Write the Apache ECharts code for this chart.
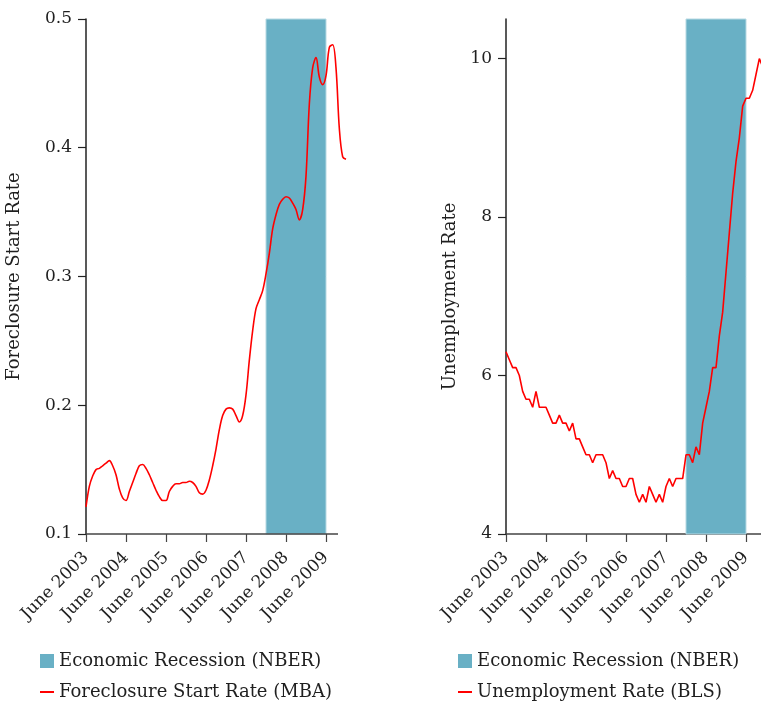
<!DOCTYPE html>
<html>
<head>
<meta charset="utf-8">
<script src="https://cdn.jsdelivr.net/npm/echarts@6/dist/echarts.min.js"></script>
<style>
  html, body { margin: 0; padding: 0; background: #fff; }
  #chart { width: 761px; height: 704px; }
</style>
</head>
<body>
<div id="chart"></div>
<script>
// x = months since June 2003
const tickLabels = ["June 2003", "June 2004", "June 2005", "June 2006", "June 2007", "June 2008", "June 2009"];
const tickMonths = [0, 12, 24, 36, 48, 60, 72];
const recession = [54, 72]; // Dec 2007 - June 2009

// foreclosure start rate, monthly from June 2003
const foreclosure = [
  0.121, 0.137, 0.145, 0.150, 0.151, 0.153, 0.155, 0.157, 0.153, 0.146, 0.135, 0.128,
  0.126, 0.133, 0.140, 0.147, 0.153, 0.154, 0.151, 0.146, 0.140, 0.134, 0.129, 0.126,
  0.126, 0.133, 0.137, 0.139, 0.139, 0.140, 0.140, 0.141, 0.140, 0.137, 0.132, 0.131,
  0.134, 0.142, 0.153, 0.166, 0.181, 0.192, 0.197, 0.198, 0.197, 0.192, 0.187, 0.192,
  0.208, 0.235, 0.258, 0.275, 0.282, 0.289, 0.302, 0.318, 0.337, 0.348, 0.356, 0.360,
  0.362, 0.361, 0.357, 0.352, 0.344, 0.352, 0.378, 0.434, 0.462, 0.470, 0.455, 0.449,
  0.456, 0.478, 0.480, 0.462, 0.415, 0.393, 0.391
];

// unemployment rate, monthly from June 2003
const unemployment = [
  6.3, 6.2, 6.1, 6.1, 6.0, 5.8, 5.7,
  5.7, 5.6, 5.8, 5.6, 5.6, 5.6, 5.5, 5.4, 5.4, 5.5, 5.4, 5.4,
  5.3, 5.4, 5.2, 5.2, 5.1, 5.0, 5.0, 4.9, 5.0, 5.0, 5.0, 4.9,
  4.7, 4.8, 4.7, 4.7, 4.6, 4.6, 4.7, 4.7, 4.5, 4.4, 4.5, 4.4,
  4.6, 4.5, 4.4, 4.5, 4.4, 4.6, 4.7, 4.6, 4.7, 4.7, 4.7, 5.0,
  5.0, 4.9, 5.1, 5.0, 5.4, 5.6, 5.8, 6.1, 6.1, 6.5, 6.8, 7.3,
  7.8, 8.3, 8.7, 9.0, 9.4, 9.5, 9.5, 9.6, 9.8, 10.0, 9.9
];

const leftTicks = [0.1, 0.2, 0.3, 0.4, 0.5];
const rightTicks = [4, 6, 8, 10];
const leftAxisEnd = 75.6; // bottom axis line stops short of the last points

const FONT = "DejaVu Serif";
const TEXT = "#1f1f1f";
const BAND = "#69b0c5";
const RED = "#ff0000";
const AXIS = "#444";

const toPairs = arr => arr.map((v, i) => [i, v]);

function xAxisOpt(gridIndex, max, showLine) {
  return {
    type: "value",
    gridIndex: gridIndex,
    min: 0,
    max: max,
    axisLine: { show: showLine, lineStyle: { color: AXIS, width: 1.5 } },
    axisTick: { show: true, customValues: tickMonths, length: 8, lineStyle: { color: AXIS, width: 1.2 } },
    axisLabel: {
      customValues: tickMonths,
      rotate: 45,
      margin: 21,
      fontFamily: FONT,
      fontSize: 17,
      color: TEXT,
      formatter: v => tickLabels[Math.round(v / 12)]
    },
    splitLine: { show: false }
  };
}

function yAxisOpt(gridIndex, min, max, ticks, name, gap, namePad) {
  return {
    type: "value",
    gridIndex: gridIndex,
    min: min,
    max: max,
    name: name,
    nameLocation: "middle",
    nameGap: gap,
    nameTextStyle: { fontFamily: FONT, fontSize: 18, color: TEXT, padding: namePad },
    axisLine: { show: true, lineStyle: { color: "#222", width: 1.5 } },
    axisTick: { show: true, customValues: ticks, length: 8, lineStyle: { color: "#222", width: 1.2 } },
    axisLabel: {
      customValues: ticks,
      margin: 14,
      fontFamily: FONT,
      fontSize: 17,
      color: TEXT
    },
    splitLine: { show: false }
  };
}

function bandSeries(xi, yi, extra) {
  return Object.assign({
    name: "Economic Recession (NBER)",
    type: "line",
    xAxisIndex: xi,
    yAxisIndex: yi,
    data: [],
    symbol: "none",
    itemStyle: { color: BAND },
    lineStyle: { color: BAND },
    markArea: {
      silent: true,
      itemStyle: { color: BAND, borderColor: "#b7d9e3", borderWidth: 1 },
      data: [[{ xAxis: recession[0] }, { xAxis: recession[1] }]]
    }
  }, extra || {});
}

function legendOpt(left, top, name, w, h) {
  return {
    orient: "vertical",
    left: left,
    top: top,
    padding: 0,
    itemWidth: w,
    itemHeight: h,
    icon: "rect",
    textStyle: { fontFamily: FONT, fontSize: 18, color: TEXT },
    data: [name]
  };
}

const chart = echarts.init(document.getElementById("chart"), null, { renderer: "canvas" });
chart.setOption({
  animation: false,
  backgroundColor: "#fff",
  grid: [
    { left: 86, top: 19, width: 260, height: 515 },
    { left: 506, top: 19, width: 255, height: 515 }
  ],
  xAxis: [xAxisOpt(0, 78, false), xAxisOpt(1, 76.5, true)],
  yAxis: [
    yAxisOpt(0, 0.1, 0.5, leftTicks, "Foreclosure Start Rate", 63, 0),
    yAxisOpt(1, 4, 10.5, rightTicks, "Unemployment Rate", 47, [0, 40, 0, 0])
  ],
  legend: [
    legendOpt(40, 652, "Economic Recession (NBER)", 14, 14),
    legendOpt(40, 683, "Foreclosure Start Rate (MBA)", 14, 2),
    legendOpt(458, 652, "Economic Recession (NBER)", 14, 14),
    legendOpt(458, 683, "Unemployment Rate (BLS)", 14, 2)
  ],
  series: [
    bandSeries(0, 0, {
      markLine: {
        silent: true,
        symbol: "none",
        label: { show: false },
        lineStyle: { color: AXIS, width: 1.5, type: "solid" },
        data: [[{ coord: [0, leftTicks[0]] }, { coord: [leftAxisEnd, leftTicks[0]] }]]
      }
    }),
    {
      name: "Foreclosure Start Rate (MBA)",
      type: "line",
      xAxisIndex: 0,
      yAxisIndex: 0,
      data: toPairs(foreclosure),
      symbol: "none",
      smooth: 0.35,
      itemStyle: { color: RED },
      lineStyle: { color: RED, width: 1.6 }
    },
    bandSeries(1, 1),
    {
      name: "Unemployment Rate (BLS)",
      type: "line",
      xAxisIndex: 1,
      yAxisIndex: 1,
      data: toPairs(unemployment),
      symbol: "none",
      itemStyle: { color: RED },
      lineStyle: { color: RED, width: 1.6 }
    }
  ]
});
</script>
</body>
</html>
